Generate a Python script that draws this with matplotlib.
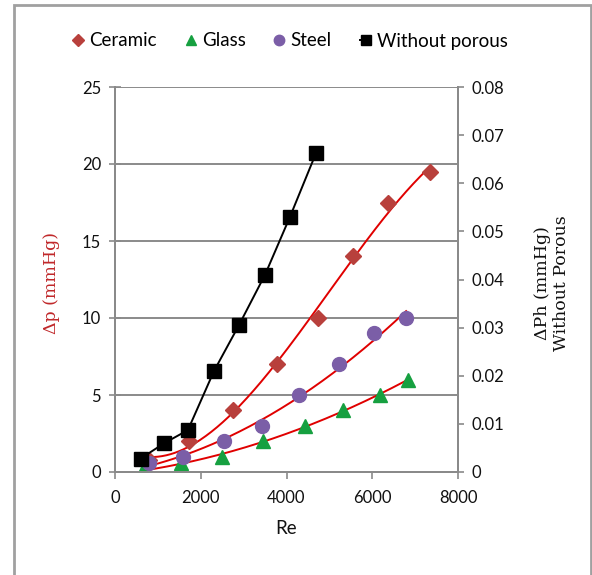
import numpy as np
import matplotlib
matplotlib.use("Agg")
import matplotlib.pyplot as plt
from matplotlib.patches import Rectangle
from matplotlib.ticker import FuncFormatter

# ── Dados ──────────────────────────────────────────────────
re_ceramic = [800, 1720, 2750, 3770, 4730, 5550, 6370, 7350]
dp_ceramic = [0.75, 2.0, 4.0, 7.0, 10.0, 14.0, 17.5, 19.5]

re_glass = [650, 1530, 2500, 3450, 4430, 5320, 6180, 6830]
dp_glass = [0.1, 0.6, 1.0, 2.0, 3.0, 4.0, 5.0, 6.0]

re_steel = [800, 1590, 2540, 3430, 4290, 5220, 6040, 6790]
dp_steel = [0.6, 1.0, 2.0, 3.0, 5.0, 7.0, 9.0, 10.0]

re_sem = [600, 1150, 1700, 2310, 2890, 3500, 4080, 4690]
dph_sem = [0.0028, 0.006, 0.0087, 0.021, 0.0305, 0.041, 0.053, 0.0663]

FONTE = "Lato"
cor_ceramic = "#b8403c"
cor_glass = "#16a040"
cor_steel = "#7b5ea7"
cor_trend = "#e00000"
cor_grade = "#8a8a8a"
cor_texto = "#111111"

fig = plt.figure(figsize=(5.92, 5.75), dpi=100)
fig.patch.set_facecolor("white")

# moldura da imagem
fig.patches.append(Rectangle((14 / 592, -0.05), 577 / 592, 1 - 5 / 575 + 0.05,
                             transform=fig.transFigure, fill=False,
                             edgecolor="#a0a0a0", lw=2))

ax = fig.add_axes([115 / 592, 1 - 472 / 575, 343 / 592, 385 / 575])
ax2 = ax.twinx()

# linhas de tendência polinomiais
for xs, ys, grau in [(re_ceramic, dp_ceramic, 3), (re_steel, dp_steel, 2),
                     (re_glass, dp_glass, 2)]:
    coef = np.polyfit(xs, ys, grau)
    xx = np.linspace(xs[0], xs[-1], 200)
    ax.plot(xx, np.polyval(coef, xx), color=cor_trend, lw=1.4, zorder=3)

ax.plot(re_ceramic, dp_ceramic, "D", color=cor_ceramic, ms=8.5, ls="none",
        zorder=4, label="Ceramic")
ax.plot(re_glass, dp_glass, "^", color=cor_glass, ms=9.5, ls="none",
        zorder=4, label="Glass")
ax.plot(re_steel, dp_steel, "o", color=cor_steel, ms=10, ls="none",
        zorder=4, label="Steel")

ax2.plot(re_sem, dph_sem, "-s", color="black", lw=1.4, ms=10, zorder=5,
         label="Without porous")

ax.set_xlim(0, 8000)
ax.set_ylim(0, 25)
ax2.set_ylim(0, 0.08)
ax.set_xticks(range(0, 8001, 2000))
ax.set_yticks(range(0, 26, 5))
ax2.set_yticks(np.arange(0, 0.0801, 0.01))
ax2.yaxis.set_major_formatter(FuncFormatter(lambda v, p: "0" if abs(v) < 1e-9 else f"{v:.2f}"))

ax.grid(axis="y", color=cor_grade, lw=1.4)
ax.set_axisbelow(True)
for a in (ax, ax2):
    for s in a.spines.values():
        s.set_color(cor_grade)
        s.set_linewidth(1.4)
ax.spines["top"].set_visible(False)
ax2.spines["top"].set_visible(False)

ax.tick_params(axis="both", colors=cor_grade, labelcolor=cor_texto, length=5,
               width=1.2, labelsize=12)
ax.tick_params(axis="y", direction="inout", length=8, pad=6)
ax.tick_params(axis="x", pad=8)
ax2.tick_params(axis="y", colors=cor_grade, labelcolor=cor_texto, length=4,
                width=1.2, labelsize=12, pad=6)
for lbl in ax.get_xticklabels() + ax.get_yticklabels() + ax2.get_yticklabels():
    lbl.set_fontfamily(FONTE)

ax.set_xlabel("Re", fontsize=13.5, family=FONTE, color=cor_texto, labelpad=10)
fig.text(52 / 592, 1 - 283 / 575, "Δp (mmHg)", rotation=90, ha="center", va="center",
         fontsize=12.5, family="DejaVu Serif", color="#c0282a")
fig.text(552 / 592, 1 - 283 / 575, "ΔPh (mmHg)\nWithout Porous", rotation=90,
         ha="center", va="center", fontsize=12.5, family="DejaVu Serif",
         color=cor_texto, linespacing=1.1)

h1, l1 = ax.get_legend_handles_labels()
h2, l2 = ax2.get_legend_handles_labels()
fig.legend(h1 + h2, l1 + l2, loc="center", bbox_to_anchor=(290 / 592, 1 - 41 / 575),
           ncol=4, frameon=False, handlelength=0.6, handletextpad=0.3,
           columnspacing=1.5, markerscale=0.75,
           prop={"family": FONTE, "size": 13.5})

fig.savefig("out.png", dpi=100, facecolor="white")
